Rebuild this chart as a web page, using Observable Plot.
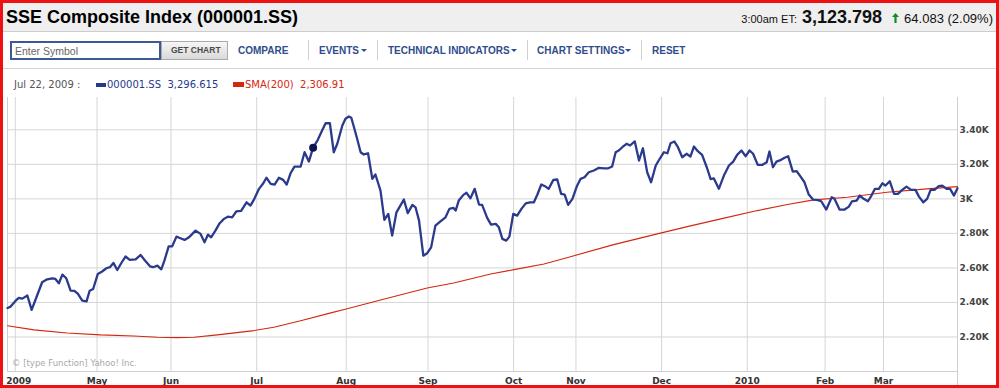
<!DOCTYPE html>
<html><head><meta charset="utf-8">
<script src="https://cdn.jsdelivr.net/npm/d3@7"></script>
<script src="https://cdn.jsdelivr.net/npm/@observablehq/plot@0.6"></script>
<style>
body{margin:0;background:#fff;}
#page{position:relative;width:999px;height:388px;overflow:hidden;font-family:"Liberation Sans",Arial,sans-serif;background:#fff;}
.abs{position:absolute;white-space:nowrap;}
.tb{font-size:10px;line-height:10px;font-weight:bold;color:#2f4c8e;top:46px;}
.sep{position:absolute;top:40px;width:1px;height:20px;background:#d0d0d0;}
.arr{position:absolute;top:49px;width:0;height:0;border-left:3px solid transparent;border-right:3px solid transparent;border-top:3px solid #2f4c8e;}
.lg{font-family:"DejaVu Sans",Verdana,sans-serif;font-size:10px;line-height:10px;top:80px;}
#chart{position:absolute;left:0;top:95px;}
#border{position:absolute;left:0;top:0;width:999px;height:388px;box-sizing:border-box;border:3px solid #ee1111;pointer-events:none;}
</style></head>
<body><div id="page">
<div class="abs" style="left:0;top:0;width:999px;height:31px;background:#efefef;border-bottom:1px solid #cdcdcd"></div>
<div class="abs" style="left:6px;top:8px;font-size:18px;line-height:18px;font-weight:bold;color:#000">SSE Composite Index (000001.SS)</div>
<div class="abs" style="right:6px;top:6.5px;font-size:18px;line-height:20px;color:#111">
<span style="font-size:11px">3:00am ET:</span> <b style="font-size:18px">3,123.798</b>
<svg width="7" height="10" viewBox="0 0 7 10" style="margin-left:5px;vertical-align:baseline"><path d="M3.5 0 L7 4 L4.6 4 L4.6 10 L2.4 10 L2.4 4 L0 4 Z" fill="#118a2a"/></svg>
<span style="font-size:13px">64.083 (2.09%)</span></div>
<div class="abs" style="left:0;top:68px;width:999px;height:1px;background:#d5d5d5"></div>
<div class="abs" style="left:10px;top:40.5px;width:147px;height:15px;border:2px solid #3b5a93;background:#fff"></div>
<div class="abs" style="left:15px;top:45.5px;font-size:10.5px;line-height:10px;color:#666">Enter Symbol</div>
<div class="abs" style="left:161px;top:41px;width:65px;height:17px;border:1px solid #aaa;background:linear-gradient(#f6f6f6,#d9d9d9)"></div>
<div class="abs" style="left:171px;top:46px;font-size:8.5px;line-height:9px;font-weight:bold;color:#4a4a4a">GET CHART</div>
<div class="abs tb" style="left:238px">COMPARE</div>
<div class="sep" style="left:308px"></div>
<div class="abs tb" style="left:319px">EVENTS</div><div class="arr" style="left:361px"></div>
<div class="sep" style="left:377px"></div>
<div class="abs tb" style="left:388px">TECHNICAL INDICATORS</div><div class="arr" style="left:511px"></div>
<div class="sep" style="left:527px"></div>
<div class="abs tb" style="left:537px">CHART SETTINGS</div><div class="arr" style="left:625px"></div>
<div class="sep" style="left:641px"></div>
<div class="abs tb" style="left:652px">RESET</div>
<div class="abs lg" style="left:14px;color:#555" id="lgDate"></div>
<div class="abs" style="left:96px;top:83px;width:10px;height:4px;background:#26398b"></div>
<div class="abs lg" style="left:107px;color:#26398b" id="lgClose"></div>
<div class="abs" style="left:233px;top:82px;width:11px;height:5px;background:#d4270f"></div>
<div class="abs lg" style="left:245px;color:#d4270f" id="lgSma"></div>
<div id="chart"></div>
<div class="abs" style="left:12px;top:358.5px;font-family:'DejaVu Sans',Verdana,sans-serif;font-size:8.5px;line-height:9px;color:#a8a8a8">© [type Function] Yahoo! Inc.</div>
<div id="border"></div>
</div>
<script>
// x = trading-day index from the first session shown (Mar 30, 2009)
const monthTicks = [2,23,42,64,87,108,130,146,168,190,210,225];
const monthLabels = ["2009","May","Jun","Jul","Aug","Sep","Oct","Nov","Dec","2010","Feb","Mar"];
const yTicks = [2200,2400,2600,2800,3000,3200,3400];
const yTickLabels = ["2.20K","2.40K","2.60K","2.80K","3K","3.20K","3.40K"];

const closeDay = [0,0.8,2.1,2.9,3.8,5.1,6.2,7.6,8.9,10.2,11.5,12.3,13.2,14.1,15.1,16.2,17.2,18.1,19.2,20.3,21.1,22.0,23.2,24.3,25.4,26.3,27.2,28.2,29.2,30.3,31.4,32.9,34.2,35.2,36.6,37.4,38.5,39.5,40.3,41.4,42.3,43.4,44.4,45.5,46.6,48.3,49.6,50.6,51.5,52.3,53.4,54.5,55.6,56.6,57.7,58.8,60.0,61.4,62.4,63.4,64.6,65.7,66.5,67.6,68.6,69.7,70.8,71.7,72.7,73.7,75.3,76.3,77.4,78.5,79.7,80.8,81.7,82.8,83.8,84.7,86.0,86.8,87.7,88.3,89.1,89.8,90.7,91.5,92.6,93.7,94.5,95.8,96.8,97.8,98.8,99.9,100.9,101.8,102.8,104.0,104.8,105.7,106.8,107.8,108.8,109.9,111.2,112.5,113.5,114.5,115.1,115.9,117.1,117.9,118.9,120.0,121.1,121.9,123.2,124.2,125.4,126.2,127.1,128.1,128.9,129.9,130.9,132.0,133.1,134.2,135.2,136.1,137.1,138.2,139.0,140.2,141.2,142.2,143.1,144.0,145.1,146.2,147.2,148.2,149.3,150.6,151.9,153.2,154.3,155.3,156.2,157.0,157.9,159.0,159.9,161.1,162.2,163.2,164.3,165.3,166.5,167.6,168.6,169.5,170.3,171.3,172.2,173.3,174.4,175.4,176.3,177.3,178.4,179.6,180.6,181.4,182.7,184.0,185.3,186.4,187.4,188.5,189.6,190.6,191.5,192.7,193.9,195.0,195.7,196.6,197.5,198.7,199.6,200.5,201.7,202.7,203.7,204.7,205.8,206.9,207.9,209.0,210.3,211.7,212.4,213.7,215.0,216.1,216.9,218.1,218.9,219.9,221.0,221.9,222.8,223.8,224.7,225.5,226.6,227.7,228.7,229.8,230.9,232.1,233.2,234.1,235.2,236.2,237.1,238.1,239.2,240.1,241.2,242.1,243.1,244.0];
const closeValue = [2368,2376,2410,2426,2422,2440,2357,2440,2517,2534,2540,2536,2511,2561,2540,2468,2467,2449,2410,2406,2468,2478,2565,2579,2598,2604,2629,2588,2627,2666,2646,2650,2675,2646,2609,2604,2613,2592,2642,2725,2725,2781,2772,2762,2777,2816,2797,2748,2793,2777,2816,2859,2884,2897,2893,2928,2930,2980,2961,3000,3058,3090,3122,3087,3083,3122,3110,3083,3148,3187,3187,3270,3216,3296.615,3342,3396,3438,3438,3270,3319,3425,3464,3477,3470,3406,3348,3270,3257,3264,3116,3141,3048,2878,2913,2787,2922,2961,2996,2917,2965,2951,2874,2671,2685,2719,2845,2870,2893,2942,2948,2932,2990,3023,3035,3003,3058,2967,2965,2890,2851,2855,2835,2768,2758,2781,2913,2903,2942,2974,2980,2980,3025,3083,3071,3058,3110,3112,3029,3025,2965,3000,3071,3116,3125,3154,3164,3180,3177,3177,3187,3270,3280,3299,3319,3309,3333,3222,3293,3154,3096,3193,3235,3270,3264,3322,3332,3299,3241,3261,3245,3303,3276,3255,3183,3114,3119,3058,3135,3193,3216,3255,3280,3247,3280,3261,3197,3197,3212,3274,3183,3216,3226,3238,3247,3158,3160,3129,3096,3025,2996,2994,2986,2938,3009,3000,2938,2938,2955,2986,2990,3019,3000,2986,3019,3058,3058,3090,3077,3102,3029,3029,3052,3071,3052,3052,3013,2980,3000,3052,3052,3073,3077,3058,3058,3019,3061];

const smaDay = [0,6.8,15.3,23.9,32.4,38.5,43.6,47.9,53.9,63.3,68.4,75.3,82.8,87.0,96.8,107.8,114.6,124.1,130.1,137.8,144.6,155.7,166.9,174.6,183.2,192.6,200.3,207.1,215.7,225.9,236.2,244];
const smaValue = [2265,2241,2223,2212,2206,2198,2196,2198,2212,2237,2256,2294,2338,2362,2420,2484,2513,2565,2590,2623,2665,2735,2797,2839,2884,2932,2967,2994,3009,3038,3058,3071];

const hoverDate = "Jul 22, 2009";
const hoverDay = [78.5];
const hoverClose = [3296.615];
const hoverSma = [2306.91];

const closeRows = closeDay.map((d, i) => ({day: d, value: closeValue[i]}));
const smaRows = smaDay.map((d, i) => ({day: d, value: smaValue[i]}));
const hoverRows = hoverDay.map((d, i) => ({day: d, value: hoverClose[i]}));

document.getElementById("lgDate").textContent = hoverDate + " :";
document.getElementById("lgClose").innerHTML = "000001.SS&nbsp; " + d3.format(",.3f")(hoverClose[0]);
document.getElementById("lgSma").innerHTML = "SMA(200)&nbsp; " + d3.format(",.2f")(hoverSma[0]);

const xDomain = [closeDay[0], closeDay[closeDay.length - 1]];
const yDomain = [2000, 3587];

const chart = Plot.plot({
  width: 999,
  height: 293,
  marginLeft: 7,
  marginRight: 42,
  marginTop: 2,
  marginBottom: 17,
  style: {fontFamily: "'DejaVu Sans', Verdana, sans-serif", fontSize: "9px", fontWeight: "bold", color: "#333", background: "transparent", overflow: "visible"},
  x: {domain: xDomain},
  y: {domain: yDomain},
  marks: [
    Plot.gridY(yTicks, {stroke: "#d6d6d6", strokeOpacity: 1}),
    Plot.gridX(monthTicks, {stroke: "#d6d6d6", strokeOpacity: 1}),
    Plot.ruleX([xDomain[0]], {stroke: "#cfcfcf"}),
    Plot.ruleX([xDomain[1]], {y1: 1900, y2: yDomain[1], stroke: "#cfcfcf"}),
    Plot.ruleY([yDomain[0]], {stroke: "#cfcfcf"}),
    Plot.axisY(yTicks, {anchor: "right", tickSize: 0, tickPadding: 2, fill: "#444", tickFormat: d => yTickLabels[yTicks.indexOf(d)], label: null}),
    Plot.axisX(monthTicks.slice(1), {anchor: "bottom", tickSize: 0, tickPadding: 6, fill: "#333", tickFormat: d => monthLabels[monthTicks.indexOf(d)], label: null}),
    Plot.axisX(monthTicks.slice(0, 1), {anchor: "bottom", tickSize: 0, tickPadding: 6, dx: 3.5, fill: "#333", tickFormat: d => monthLabels[monthTicks.indexOf(d)], label: null}),
    Plot.line(smaRows, {x: "day", y: "value", stroke: "#d4270f", strokeWidth: 1.1}),
    Plot.line(closeRows, {x: "day", y: "value", stroke: "#2b3a8c", strokeWidth: 2.3, strokeLinejoin: "round"}),
    Plot.dot(hoverRows, {x: "day", y: "value", r: 4, fill: "#0b1550", stroke: "none"})
  ]
});
document.getElementById("chart").appendChild(chart);
</script>
</body></html>
